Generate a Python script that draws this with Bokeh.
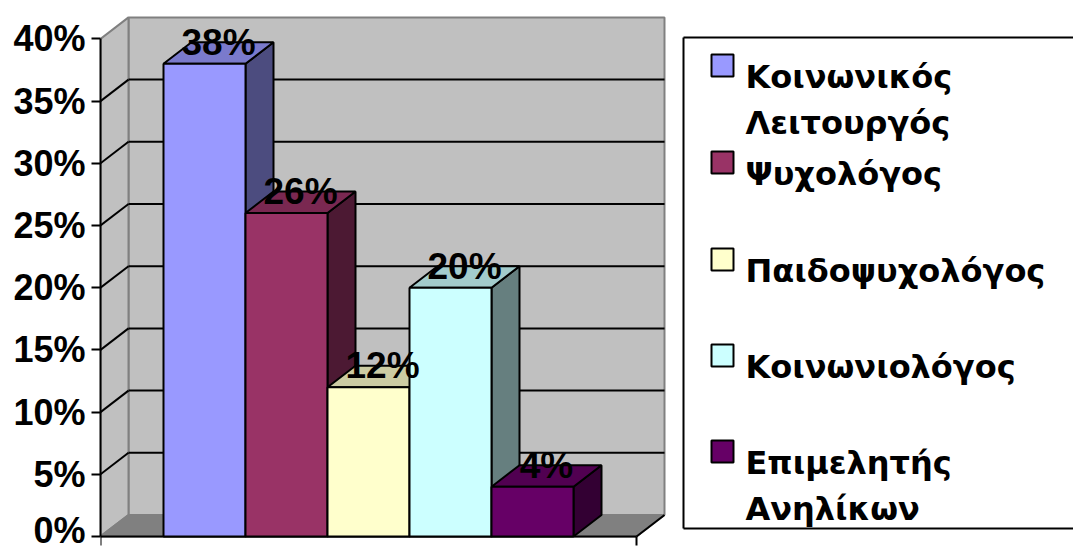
from bokeh.plotting import figure
from bokeh.models import Range1d, FixedTicker, ColumnDataSource
from bokeh.core.properties import value
from bokeh.embed import file_html
from bokeh.resources import INLINE

# ---------------- data ----------------
CATEGORIES = ["Κοινωνικός Λειτουργός", "Ψυχολόγος", "Παιδοψυχολόγος",
              "Κοινωνιολόγος", "Επιμελητής Ανηλίκων"]
VALUES = [38, 26, 12, 20, 4]
VALUE_LABELS = ["38%", "26%", "12%", "20%", "4%"]
TICKS = [0, 5, 10, 15, 20, 25, 30, 35, 40]
TICK_LABELS = ["0%", "5%", "10%", "15%", "20%", "25%", "30%", "35%", "40%"]
COLORS = ["#9999FF", "#993366", "#FFFFCC", "#CCFFFF", "#660066"]

# ---------------- layout / style ----------------
W, H = 1073, 550
LEFT = 100                # left border (axis panel)
Y0_CANVAS = 536           # canvas y of 0 %
PX = 12.44                # pixels per percent
DX = 28                   # depth offset (x units == px)
DY = 21.5 / PX            # depth offset in percent units
WALL_W = 536              # front width of the floor
YMAX = 40
BAR_X0 = 63
BAR_W = 82
TOP_F, SIDE_F = 0.8, 0.5
FONT = "Liberation Sans"
LFONT = "DejaVu Sans"


def shade(c, f):
    return "#%02x%02x%02x" % tuple(int(int(c[i:i + 2], 16) * f) for i in (1, 3, 5))


def ix(x):   # page x -> data x
    return x - LEFT


def iy(y):   # page y -> data y
    return (Y0_CANVAS - y) / PX


p = figure(width=W, height=H, output_backend="svg", toolbar_location=None,
           x_range=Range1d(0, W - LEFT),
           y_range=Range1d(-(H - Y0_CANVAS) / PX, Y0_CANVAS / PX),
           min_border_left=LEFT, min_border_right=0, min_border_top=0,
           min_border_bottom=0)
p.outline_line_color = None
p.grid.visible = False
p.xaxis.visible = False
p.background_fill_color = "white"
p.border_fill_color = "white"

ya = p.yaxis[0]
ya.ticker = FixedTicker(ticks=TICKS)
ya.major_label_overrides = {t: l for t, l in zip(TICKS, TICK_LABELS)}
ya.bounds = (0, YMAX)
ya.axis_line_color = "black"
ya.axis_line_width = 2
ya.major_tick_line_color = "black"
ya.major_tick_line_width = 2
ya.major_tick_out = 9
ya.major_tick_in = 0
ya.minor_tick_line_color = None
ya.major_label_standoff = 6
ya.major_label_text_font = FONT
ya.major_label_text_font_style = "bold"
ya.major_label_text_font_size = "36px"
ya.major_label_text_color = "black"

WALL = "#C0C0C0"
EDGE = "#808080"

# back wall
p.quad(left=DX, right=WALL_W + DX, bottom=DY, top=YMAX + DY,
       fill_color=WALL, line_color=EDGE, line_width=2)
# side wall
p.patch([0, DX, DX, 0], [0, DY, YMAX + DY, YMAX],
        fill_color=WALL, line_color=EDGE, line_width=2)
# floor
p.patch([0, WALL_W, WALL_W + DX, DX], [0, 0, DY, DY],
        fill_color="#808080", line_color=EDGE, line_width=2)

# gridlines
inner = [t for t in TICKS if 0 < t < YMAX]
p.segment(x0=[DX] * len(inner), y0=[t + DY for t in inner],
          x1=[WALL_W + DX] * len(inner), y1=[t + DY for t in inner],
          line_color="black", line_width=2)
p.segment(x0=[0] * len(inner), y0=inner,
          x1=[DX] * len(inner), y1=[t + DY for t in inner],
          line_color="black", line_width=2)

# floor front edge (category axis) and right edge, with ticks
p.segment(x0=[0, WALL_W], y0=[0, 0], x1=[WALL_W, WALL_W + DX], y1=[0, DY],
          line_color="black", line_width=2)
p.segment(x0=[0, WALL_W], y0=[0, 0], x1=[0, WALL_W], y1=[-9 / PX, -9 / PX],
          line_color="black", line_width=2)

# bars
fx, fy, tx, ty, sx, sy, fc, tc, sc = [], [], [], [], [], [], [], [], []
for i, (v, c) in enumerate(zip(VALUES, COLORS)):
    xl = BAR_X0 + i * BAR_W
    xr = xl + BAR_W
    fx.append([xl, xr, xr, xl]); fy.append([0, 0, v, v])
    tx.append([xl, xr, xr + DX, xl + DX]); ty.append([v, v, v + DY, v + DY])
    sx.append([xr, xr + DX, xr + DX, xr]); sy.append([0, DY, v + DY, v])
    fc.append(c); tc.append(shade(c, TOP_F)); sc.append(shade(c, SIDE_F))

p.patches(xs=sx, ys=sy, fill_color=sc, line_color="black", line_width=2)
p.patches(xs=tx, ys=ty, fill_color=tc, line_color="black", line_width=2)
p.patches(xs=fx, ys=fy, fill_color=fc, line_color="black", line_width=2)

# value labels
lab = ColumnDataSource(dict(
    x=[BAR_X0 + i * BAR_W + BAR_W / 2 + DX / 2 for i in range(len(VALUES))],
    y=[v + DY for v in VALUES], t=VALUE_LABELS))
p.text(x="x", y="y", text="t", source=lab, text_align="center",
       text_baseline="middle", text_font=value(FONT), text_font_style="bold",
       text_font_size="37px", text_color="black")

# legend (drawn manually; box runs off the right edge)
L_LEFT, L_RIGHT, L_TOP, L_BOT = ix(683), ix(W), iy(37), iy(528)
p.segment(x0=[L_LEFT, L_LEFT, L_LEFT], y0=[L_TOP, L_TOP, L_BOT],
          x1=[L_LEFT, L_RIGHT, L_RIGHT], y1=[L_BOT, L_TOP, L_BOT],
          line_color="black", line_width=2)
BASELINES = [76, 173, 270, 366, 462]
LINE_GAP = 46
SW = 22
lx, ly, lt = [], [], []
for name, b in zip(CATEGORIES, BASELINES):
    for k, part in enumerate(name.split(" ")):
        lx.append(ix(745)); ly.append(iy(b + k * LINE_GAP)); lt.append(part)
p.quad(left=[ix(711)] * len(COLORS), right=[ix(711 + SW)] * len(COLORS),
       top=[iy(b - SW) for b in BASELINES], bottom=[iy(b) for b in BASELINES],
       fill_color=COLORS, line_color="black", line_width=2)
p.text(x=lx, y=ly, text=lt, text_align="left", text_baseline="alphabetic",
       text_font=value(LFONT), text_font_style="bold", text_font_size="32px",
       text_color="black")

open("out.html", "w").write(file_html(p, INLINE))
